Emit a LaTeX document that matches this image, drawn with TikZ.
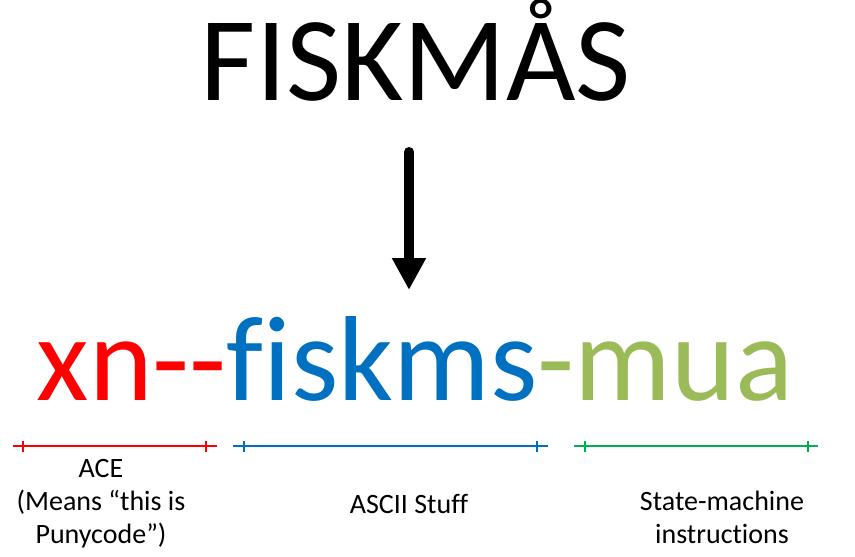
\documentclass[tikz,border=0pt]{standalone}
\usepackage{fontspec}
\setmainfont{Carlito}[Ligatures={NoCommon}]
\usetikzlibrary{arrows.meta}
\definecolor{pred}{HTML}{FF0000}
\definecolor{pblue}{HTML}{0070C0}
\definecolor{polive}{HTML}{9BBB59}
\definecolor{pgreen}{HTML}{00B050}
\tikzset{
  bigtext/.style={inner sep=0pt, anchor=base, font=\fontsize{120}{130}\selectfont},
  codetext/.style={inner sep=0pt, anchor=base, font=\fontsize{121}{130}\selectfont},
  label/.style={inner sep=0pt, anchor=base, align=center, font=\fontsize{28}{33}\selectfont},
  bracket/.style={line width=2.3pt},
  bigarrow/.style={line width=10pt, line cap=round, -{Triangle[width=32pt,length=32pt]}}
}
\begin{document}
\begin{tikzpicture}[x=1pt,y=-1pt]
\useasboundingbox (0,0) rectangle (855,557);
\node[bigtext] (word) at (416,100) {FISKMÅS};
\node[codetext] (code) at (415,400) {\textcolor{pred}{xn\mbox{-}\mbox{-}}\textcolor{pblue}{f\mbox{}iskms}\textcolor{polive}{\mbox{-}mua}};
\coordinate (astart) at (409,152);
\coordinate (aend) at (409,290);
\draw[bigarrow] (astart) -- (aend);
% brackets
\draw[bracket, pred] (13,446) -- (217,446) (23,441) -- (23,452) (206,441) -- (206,452);
\draw[bracket, pblue] (233,446) -- (548,446) (244,441) -- (244,452) (537,441) -- (537,452);
\draw[bracket, pgreen] (574,446) -- (818,446) (585,441) -- (585,452) (808,441) -- (808,452);
% labels (anchor base = baseline of the last line)
\node[label] (ace) at (101,543) {ACE\\(Means “this is\\Punycode”)};
\node[label] (ascii) at (409,513) {ASCII Stuff};
\node[label] (state) at (722,543) {State-machine\\instructions};
\end{tikzpicture}
\end{document}
